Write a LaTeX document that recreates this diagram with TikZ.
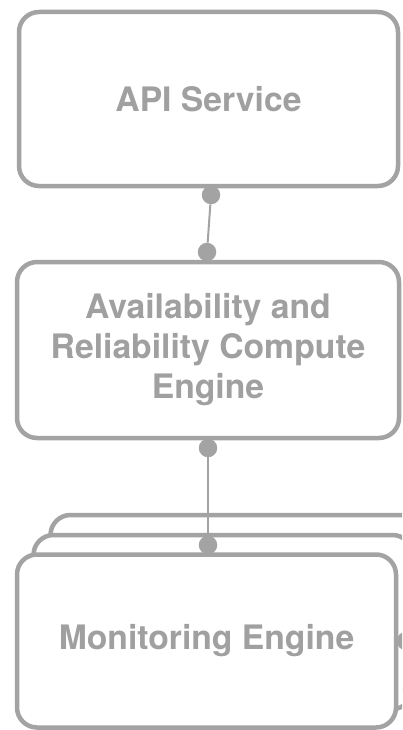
\documentclass[tikz,border=0pt]{standalone}
\usepackage{fontspec}
\setsansfont{TeX Gyre Heros}
\definecolor{linegray}{RGB}{163,163,163}
\definecolor{textgray}{RGB}{160,160,160}
\begin{document}
\begin{tikzpicture}[
  x=1pt, y=-1pt,
  block/.style={rectangle, draw=linegray, line width=4.5pt, rounded corners=20pt, fill=white,
    minimum width=379pt, minimum height=174pt, inner sep=0pt, outer sep=0pt, align=center,
    text=textgray, font=\sffamily\bfseries\fontsize{33.7}{40}\selectfont},
  joint/.style={circle, fill=linegray, inner sep=0pt, minimum size=18.5pt},
  link/.style={draw=linegray, line width=2pt}
]
\useasboundingbox (0,0) rectangle (402,730);
\clip (0,0) rectangle (402,730);

% stacked engine instances
\node[block] (mon_back) at (240,602) {};
\node[block] (mon_mid) at (223,622) {};
\node[block, minimum height=173pt] (mon) at (206.5,641) {Monitoring Engine};

\node[block] (api) at (208.5,99) {API Service};
\node[block, minimum width=382pt, minimum height=176pt] (arce) at (208,350) {Availability and\\Reliability Compute\\Engine};

\node[joint] (api_port) at (211,195) {};
\node[joint] (arce_in) at (207,252) {};
\node[joint] (arce_out) at (208,448) {};
\node[joint] (mon_in) at (208,545) {};
\node[joint] (mon_port) at (406,641) {};

\draw[link] (api_port) -- (arce_in);
\draw[link] (arce_out) -- (mon_in);
\end{tikzpicture}
\end{document}
